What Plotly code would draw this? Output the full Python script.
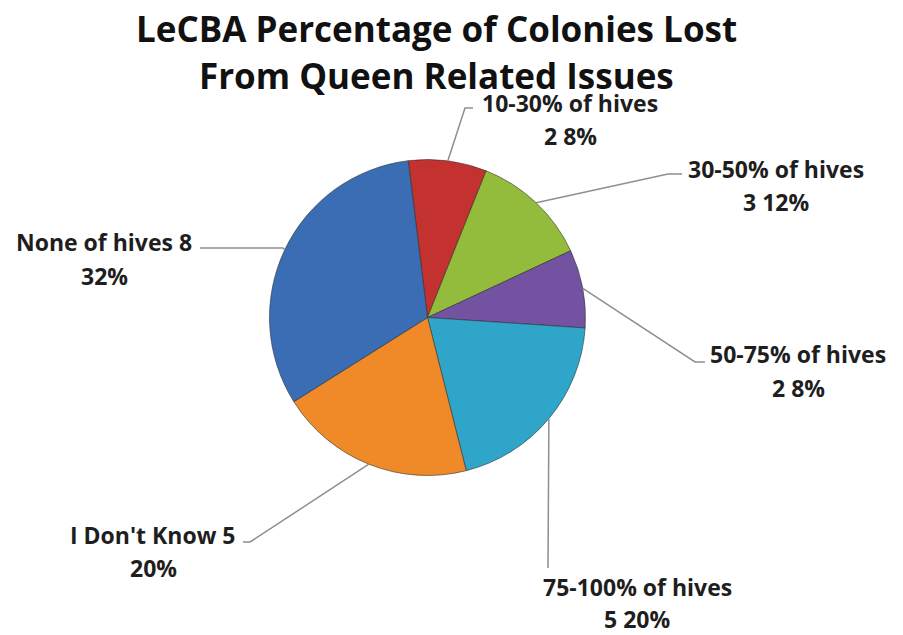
import plotly.graph_objects as go
import math

# ---- data ----
categories = ["10-30% of hives", "30-50% of hives", "50-75% of hives",
              "75-100% of hives", "I Don't Know", "None of hives"]
counts = [2, 3, 2, 5, 5, 8]
percents = [8, 12, 8, 20, 20, 32]
colors = ["#c3322f", "#93bc3d", "#7452a2", "#2fa6c9", "#f08a28", "#3a6db4"]
# whether the count sits on the first line of the label (Excel wrapping)
count_on_first_line = [False, False, False, False, True, True]

title_lines = ["LeCBA Percentage of Colonies Lost", "From Queen Related Issues"]

# ---- layout constants (pixels) ----
W, H = 903, 635
CX, CY, R = 427.5, 317.5, 158
ROTATION = -7
FONT = "Open Sans"
TXT = "#1e1e1e"
LINE = "#8f8f8f"

# label anchors: (line1 center x, line1 y, line2 y), leader elbow, leader end
label_pos = [(570, 103, 136), (776, 169, 202), (798, 354, 388),
             (637, 587, 619), (153, 535, 568), (104, 242, 276)]
elbows = [(465, 108), (668, 174), (695, 362), (548, 568), (250, 542), (283, 248)]
ends = [(473, 108), (682, 174), (705, 362), (548, 568), (243, 542), (200, 248)]


def px(x):
    return x / W


def py(y):
    return 1 - y / H


fig = go.Figure(go.Pie(
    labels=categories, values=counts, sort=False, direction="clockwise",
    rotation=ROTATION, textinfo="none", showlegend=False,
    marker=dict(colors=colors, line=dict(color="rgba(40,40,40,0.55)", width=1)),
    domain=dict(x=[px(CX - R), px(CX + R)], y=[py(CY + R), py(CY - R)]),
    hoverinfo="label+value+percent",
))

annotations = []
shapes = []
total = sum(counts)
cum = 0
for i, (cat, v, p) in enumerate(zip(categories, counts, percents)):
    mid = math.radians(ROTATION + 360 * (cum + v / 2) / total)
    cum += v
    sx, sy = CX + R * math.sin(mid), CY - R * math.cos(mid)
    ex, ey = elbows[i]
    tx, ty = ends[i]
    shapes.append(dict(type="path", xref="paper", yref="paper",
                       path=f"M{px(sx)},{py(sy)} L{px(ex)},{py(ey)} L{px(tx)},{py(ty)}",
                       line=dict(color=LINE, width=1.5)))
    if count_on_first_line[i]:
        l1, l2 = f"{cat} {v}", f"{p}%"
    else:
        l1, l2 = cat, f"{v} {p}%"
    lx, y1, y2 = label_pos[i]
    for txt, yy in ((l1, y1), (l2, y2)):
        annotations.append(dict(text=txt, x=px(lx), y=py(yy), xref="paper", yref="paper",
                                xanchor="center", yanchor="middle", showarrow=False,
                                font=dict(family=FONT, size=23, color=TXT, weight="bold")))

for txt, yy in zip(title_lines, (29, 75)):
    annotations.append(dict(text=txt, x=px(436), y=py(yy), xref="paper", yref="paper",
                            xanchor="center", yanchor="middle", showarrow=False,
                            font=dict(family=FONT, size=35, color="#111111", weight="bold")))

fig.update_layout(width=W, height=H, margin=dict(l=0, r=0, t=0, b=0),
                  paper_bgcolor="white", plot_bgcolor="white",
                  annotations=annotations, shapes=shapes)

fig.write_html("out.html", config={"displayModeBar": False},
               post_script="document.body.style.margin='0';document.body.style.overflow='hidden';")
